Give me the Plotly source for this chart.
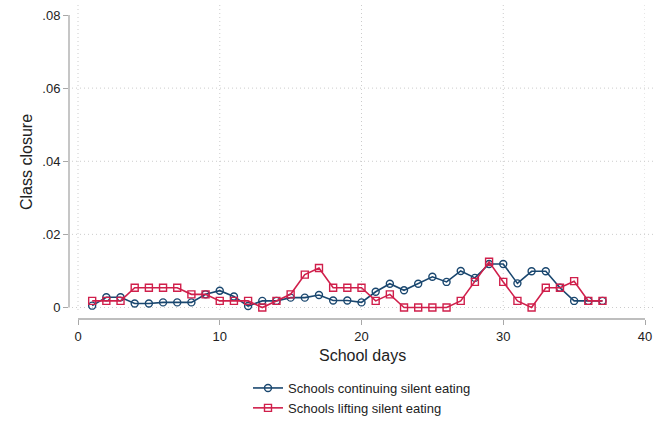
import plotly.graph_objects as go

days = list(range(1, 38))
continuing = [0.0005, 0.0028, 0.0028, 0.0011, 0.0011, 0.0014, 0.0014, 0.0014, 0.0036, 0.0046,
              0.0030, 0.0004, 0.0018, 0.0018, 0.0027, 0.0027, 0.0034, 0.0019, 0.0019, 0.0014,
              0.0043, 0.0065, 0.0047, 0.0065, 0.0084, 0.0070, 0.0100, 0.0081, 0.0119, 0.0119,
              0.0066, 0.0099, 0.0099, 0.0054, 0.0018, 0.0018, 0.0018]
lifting = [0.0018, 0.0018, 0.0018, 0.0054, 0.0054, 0.0054, 0.0054, 0.0036, 0.0036, 0.0018,
           0.0018, 0.0018, 0.0000, 0.0018, 0.0036, 0.0090, 0.0108, 0.0054, 0.0054, 0.0054,
           0.0018, 0.0036, 0.0000, 0.0000, 0.0000, 0.0000, 0.0018, 0.0070, 0.0125, 0.0070,
           0.0018, 0.0000, 0.0054, 0.0054, 0.0072, 0.0018, 0.0018]

x_ticks = [0, 10, 20, 30, 40]
y_ticks = [0, 0.02, 0.04, 0.06, 0.08]
y_ticklabels = ["0", ".02", ".04", ".06", ".08"]
y_grid = [0, 0.02, 0.04, 0.06]

BLUE = "#1a476f"
RED = "#d01f4b"
FONT = "Liberation Sans, Arial, sans-serif"

W, H = 669, 424
L, R, T, B = 69, 645, 3, 319
px_per_day = (645 - 78) / 40.0
xmin = -(78 - 69) / px_per_day
px_per_unit = (307.5 - 15) / 0.08
ymin = -(319 - 307.5) / px_per_unit
ymax = 0.08 + (15 - 3) / px_per_unit

fig = go.Figure()
fig.add_trace(go.Scatter(x=days, y=continuing, mode="lines+markers",
                         name="Schools continuing silent eating",
                         line=dict(color=BLUE, width=1.6),
                         marker=dict(symbol="circle-open", size=7, color=BLUE, line=dict(width=1.4))))
fig.add_trace(go.Scatter(x=days, y=lifting, mode="lines+markers",
                         name="Schools lifting silent eating",
                         line=dict(color=RED, width=1.6),
                         marker=dict(symbol="square-open", size=7, color=RED, line=dict(width=1.4))))

shapes = []
grid_color = "#cccccc"
grid_dash = "1px,3px"
grid_bottom = -(310 - 307.5) / px_per_unit
for xv in x_ticks:
    shapes.append(dict(type="line", xref="x", yref="y", x0=xv, x1=xv, y0=grid_bottom, y1=ymax,
                       line=dict(color=grid_color, width=1, dash=grid_dash), layer="below"))
for yv in y_grid:
    shapes.append(dict(type="line", xref="paper", yref="y", x0=(72 - L) / (R - L), x1=(653 - L) / (R - L),
                       y0=yv, y1=yv, line=dict(color=grid_color, width=1, dash=grid_dash), layer="below"))
shapes.append(dict(type="line", xref="paper", yref="y", x0=0, x1=0, y0=0, y1=0.08,
                   line=dict(color="#a8a8a8", width=1.3)))
shapes.append(dict(type="line", xref="x", yref="paper", x0=0, x1=40, y0=0, y1=0,
                   line=dict(color="#a8a8a8", width=1.3)))

fig.update_layout(
    width=W, height=H,
    margin=dict(l=L, r=W - R, t=T, b=H - B, autoexpand=False),
    paper_bgcolor="white", plot_bgcolor="white",
    font=dict(family=FONT, size=13, color="#222"),
    shapes=shapes,
    showlegend=True,
    legend=dict(xref="container", yref="container", x=248 / W, y=1 - 373 / H,
                xanchor="left", yanchor="top",
                font=dict(family=FONT, size=13, color="#222"), tracegroupgap=0,
                itemwidth=30, bgcolor="rgba(0,0,0,0)"),
    xaxis=dict(range=[xmin, 40], tickvals=x_ticks, ticktext=[str(v) for v in x_ticks],
               showgrid=False, zeroline=False, showline=False, automargin=False,
               ticks="outside", ticklen=5, tickcolor="#a8a8a8", tickwidth=1.2,
               tickfont=dict(size=13, family=FONT, color="#222")),
    yaxis=dict(range=[ymin, ymax], tickvals=y_ticks, ticktext=y_ticklabels,
               showgrid=False, zeroline=False, showline=False, automargin=False,
               ticks="outside", ticklen=5, tickcolor="#a8a8a8", tickwidth=1.2,
               tickfont=dict(size=13, family=FONT, color="#222")),
    annotations=[
        dict(text="School days", xref="paper", yref="paper", x=(362 - L) / (R - L),
             y=-(355 - B) / (B - T), showarrow=False, font=dict(size=16, family=FONT, color="#222"),
             xanchor="center", yanchor="middle"),
        dict(text="Class closure", xref="paper", yref="paper", x=-(69 - 26) / (R - L),
             y=(B - 162) / (B - T), showarrow=False, textangle=-90,
             font=dict(size=16, family=FONT, color="#222"), xanchor="center", yanchor="middle"),
    ],
)

fig.write_html("out.html")
